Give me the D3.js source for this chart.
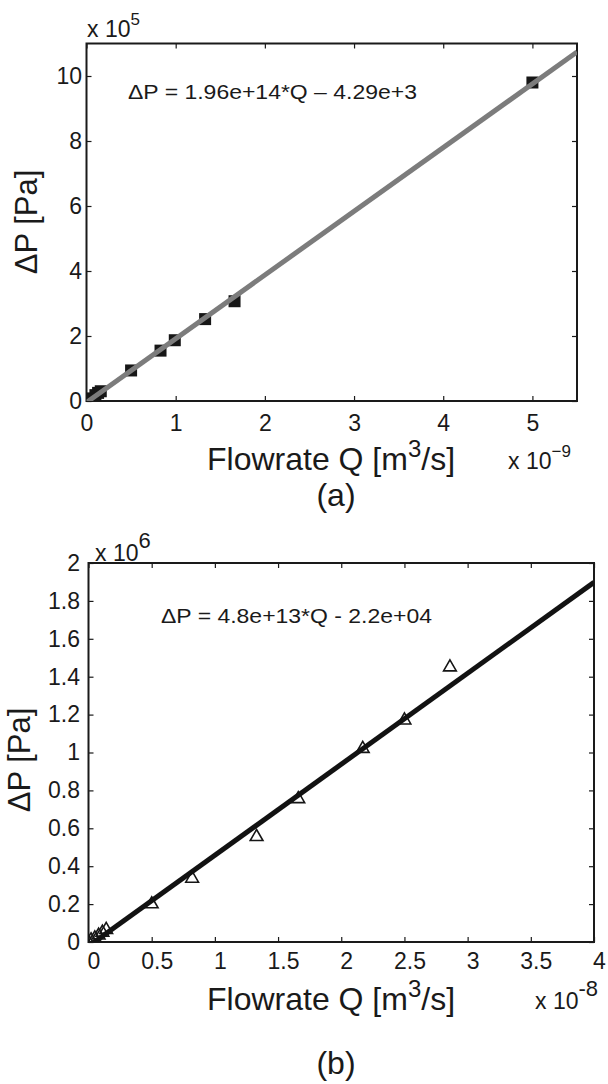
<!DOCTYPE html>
<html lang="en">
<head>
<meta charset="UTF-8">
<title>Pressure drop vs flowrate</title>
<script src="https://d3js.org/d3.v7.min.js"></script>
<style>
  body { margin: 0; background: #fff; }
  svg text { font-family: "Liberation Sans", Arial, Helvetica, sans-serif; fill: #1a1a1a; }
</style>
</head>
<body>
<svg id="fig" width="608" height="1084"></svg>
<script>
// panel (a): Q in units of 1e-9 m^3/s, dP in units of 1e5 Pa
const qA = [0.0, 0.05, 0.1, 0.13, 0.16, 0.5, 0.83, 0.99, 1.33, 1.66, 5.0];
const pA = [0.02, 0.08, 0.18, 0.25, 0.3, 0.94, 1.55, 1.87, 2.52, 3.07, 9.8];
const fitA = [1.96e14, -4.29e3];
const xTicksA = [0, 1, 2, 3, 4, 5];
const yTicksA = [0, 2, 4, 6, 8, 10];

// panel (b): Q in units of 1e-8 m^3/s, dP in units of 1e6 Pa
const qB = [0.0, 0.02, 0.05, 0.08, 0.11, 0.14, 0.5, 0.82, 1.33, 1.66, 2.17, 2.5, 2.86];
const pB = [0.0, 0.01, 0.02, 0.035, 0.05, 0.065, 0.2, 0.335, 0.555, 0.755, 1.02, 1.17, 1.45];
const fitB = [4.8e13, -2.2e4];
const xTicksB = [0, 0.5, 1, 1.5, 2, 2.5, 3, 3.5, 4];
const yTicksB = [0, 0.2, 0.4, 0.6, 0.8, 1, 1.2, 1.4, 1.6, 1.8, 2];

const svg = d3.select("#fig");
const fmt = d => String(+d.toFixed(1));

function panel(o) {
  const x = d3.scaleLinear().domain(o.xDom).range([o.left, o.right]);
  const y = d3.scaleLinear().domain(o.yDom).range([o.bottom, o.top]);
  const g = svg.append("g");

  g.append("clipPath").attr("id", o.id + "clip")
    .append("rect")
    .attr("x", o.left).attr("y", o.top)
    .attr("width", o.right - o.left).attr("height", o.bottom - o.top);

  const tick = 5;
  const bx = g.append("g").attr("transform", `translate(0,${o.bottom})`)
    .call(d3.axisBottom(x).tickValues(o.xTicks).tickSize(-tick).tickPadding(o.xPad).tickFormat(fmt));
  bx.selectAll("text").attr("dx", o.xDx).style("font-size", "23px");
  g.append("g").attr("transform", `translate(0,${o.top})`)
    .call(d3.axisTop(x).tickValues(o.xTicks).tickSize(-tick).tickFormat(""));
  const ly = g.append("g").attr("transform", `translate(${o.left},0)`)
    .call(d3.axisLeft(y).tickValues(o.yTicks).tickSize(-tick).tickPadding(o.yPad).tickFormat(fmt));
  ly.selectAll("text").style("font-size", "23px");
  g.append("g").attr("transform", `translate(${o.right},0)`)
    .call(d3.axisRight(y).tickValues(o.yTicks).tickSize(-tick).tickFormat(""));
  g.selectAll(".domain").remove();
  g.selectAll(".tick line").attr("stroke", "#1a1a1a").attr("stroke-width", 1.2);
  g.selectAll(".tick text").attr("fill", "#1a1a1a").style("font-family", null);

  g.append("rect")
    .attr("x", o.left).attr("y", o.top)
    .attr("width", o.right - o.left).attr("height", o.bottom - o.top)
    .attr("fill", "none").attr("stroke", "#1a1a1a").attr("stroke-width", 2);

  const pts = o.q.map((q, i) => [q, o.p[i]]);
  const marks = g.append("g").attr("clip-path", `url(#${o.id}clip)`);
  if (o.marker === "square") {
    marks.selectAll("rect").data(pts).join("rect")
      .attr("x", d => x(d[0]) - 6).attr("y", d => y(d[1]) - 6)
      .attr("width", 12).attr("height", 12)
      .attr("fill", "#161616");
  } else {
    marks.selectAll("path").data(pts).join("path")
      .attr("d", d3.symbol(d3.symbolTriangle, 70))
      .attr("transform", d => `translate(${x(d[0])},${y(d[1])})`)
      .attr("fill", "none").attr("stroke", "#161616").attr("stroke-width", 1.6);
  }

  // fitted line over the x range
  const fitLine = o.xDom.map(q => [q, (o.fit[0] * q * o.qUnit + o.fit[1]) / o.pUnit]);
  g.append("path").datum(fitLine)
    .attr("clip-path", `url(#${o.id}clip)`)
    .attr("d", d3.line().x(d => x(d[0])).y(d => y(d[1])))
    .attr("fill", "none").attr("stroke", o.lineColor).attr("stroke-width", 5);

  g.append("text").attr("x", o.eq.x).attr("y", o.eq.y)
    .attr("textLength", o.eq.len).attr("lengthAdjust", "spacingAndGlyphs")
    .style("font-size", "21px").text(o.eq.text);

  // axis labels
  const xl = g.append("text").attr("x", o.xLab.x).attr("y", o.xLab.y)
    .attr("text-anchor", "middle").style("font-size", "32px");
  xl.append("tspan").text("Flowrate Q [m");
  xl.append("tspan").attr("dy", -13).style("font-size", "24px").text("3");
  xl.append("tspan").attr("dy", 13).text("/s]");

  g.append("text")
    .attr("transform", `translate(${o.yLab.x},${o.yLab.y}) rotate(-90)`)
    .attr("text-anchor", "middle").style("font-size", "31px")
    .text("\u0394P [Pa]");

  // exponent multipliers
  [o.yMul, o.xMul].forEach(m => {
    const t = g.append("text").attr("x", m.x).attr("y", m.y).style("font-size", "23px");
    t.append("tspan").text("x 10");
    t.append("tspan").attr("dy", m.rise).style("font-size", m.supSize + "px").text(m.exp);
  });

  g.append("text").attr("x", o.tag.x).attr("y", o.tag.y)
    .attr("text-anchor", "middle").style("font-size", "32px").text(o.tag.text);
}

panel({
  id: "a", xDom: [0, 5.5], yDom: [0, 11],
  left: 86.5, right: 577, top: 43.5, bottom: 401,
  xTicks: xTicksA, yTicks: yTicksA, xPad: 14, yPad: 4.5, xDx: 0,
  q: qA, p: pA, fit: fitA, qUnit: 1e-9, pUnit: 1e5,
  marker: "square", lineColor: "#7c7c7c",
  eq: { x: 128, y: 99, len: 289, text: "\u0394P = 1.96e+14*Q \u2013 4.29e+3" },
  xLab: { x: 331, y: 470 }, yLab: { x: 37, y: 222 },
  yMul: { x: 87, y: 37, exp: "5", supSize: 17, rise: -12 },
  xMul: { x: 508, y: 469, exp: "\u22129", supSize: 17, rise: -12 },
  tag: { x: 336, y: 506, text: "(a)" }
});

panel({
  id: "b", xDom: [0, 4], yDom: [0, 2],
  left: 88.5, right: 594, top: 563, bottom: 942,
  xTicks: xTicksB, yTicks: yTicksB, xPad: 11, yPad: 8.5, xDx: 5,
  q: qB, p: pB, fit: fitB, qUnit: 1e-8, pUnit: 1e6,
  marker: "triangle", lineColor: "#121212",
  eq: { x: 161, y: 623, len: 271, text: "\u0394P = 4.8e+13*Q - 2.2e+04" },
  xLab: { x: 331, y: 1010 }, yLab: { x: 30, y: 760 },
  yMul: { x: 95, y: 561, exp: "6", supSize: 22, rise: -13 },
  xMul: { x: 535, y: 1009, exp: "-8", supSize: 22, rise: -13 },
  tag: { x: 336, y: 1074, text: "(b)" }
});
</script>
</body>
</html>
